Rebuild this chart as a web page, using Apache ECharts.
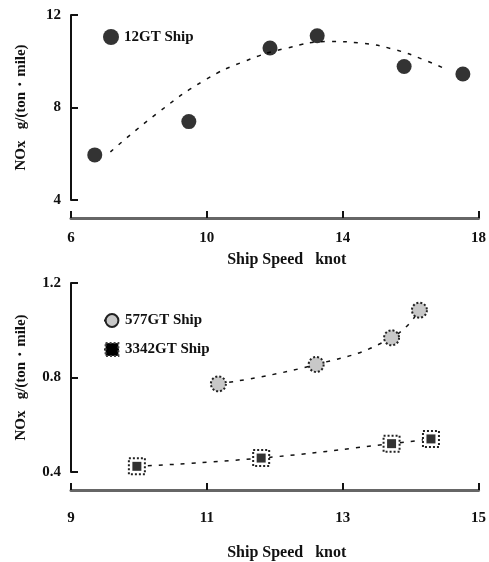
<!DOCTYPE html>
<html>
<head>
<meta charset="utf-8">
<script src="https://cdn.jsdelivr.net/npm/echarts@6/dist/echarts.min.js"></script>
<style>
  html, body { margin: 0; padding: 0; background: #fff; }
  #main { width: 489px; height: 562px; }
</style>
</head>
<body>
<div id="main"></div>
<script>
  // top panel: 12GT ship
  var speed12 = [6.7, 9.47, 11.86, 13.25, 15.81, 17.54];
  var nox12 = [5.95, 7.39, 10.57, 11.1, 9.77, 9.45];
  // fitted curve drawn in the top panel
  var fitX12 = [7.16, 8.6, 9.95, 11.1, 12.36, 13.6, 14.57, 15.54, 16.4, 16.98];
  var fitY12 = [6.08, 7.82, 9.19, 9.99, 10.57, 10.85, 10.78, 10.5, 10.06, 9.7];

  // bottom panel
  var speed577 = [11.17, 12.61, 13.72, 14.13];
  var nox577 = [0.773, 0.855, 0.968, 1.085];
  var speed3342 = [9.97, 11.8, 13.72, 14.3];
  var nox3342 = [0.424, 0.459, 0.52, 0.54];

  var topXTicks = [6, 10, 14, 18];
  var topYTicks = [4, 8, 12];
  var botXTicks = [9, 11, 13, 15];
  var botYTicks = [0.4, 0.8, 1.2];

  function pairs(xs, ys) {
    return xs.map(function (x, i) { return [x, ys[i]]; });
  }

  var font = 'Liberation Serif';
  var labelStyle = { fontFamily: font, fontSize: 15, fontWeight: 'bold', color: '#111' };

  function xAxisOf(idx, ticks, margin, gap) {
    return {
      type: 'value', gridIndex: idx,
      min: ticks[0], max: ticks[ticks.length - 1], interval: ticks[1] - ticks[0],
      offset: 18,
      name: 'Ship Speed   knot', nameLocation: 'middle', nameGap: gap,
      nameTextStyle: { fontFamily: font, fontSize: 16, fontWeight: 'bold', color: '#111', padding: [0, 0, 0, 24] },
      axisLine: { lineStyle: { color: '#666', width: 3 } },
      axisTick: { inside: true, length: 7, lineStyle: { color: '#111', width: 2 } },
      axisLabel: Object.assign({ margin: margin }, labelStyle),
      splitLine: { show: false }
    };
  }

  function yAxisOf(idx, ticks) {
    return {
      type: 'value', gridIndex: idx,
      min: ticks[0], max: ticks[ticks.length - 1], interval: ticks[1] - ticks[0],
      name: 'NOx   g/(ton\u30fbmile)', nameLocation: 'middle', nameGap: 42,
      nameTextStyle: { fontFamily: font, fontSize: 15, fontWeight: 'bold', color: '#111' },
      axisLine: { show: true, lineStyle: { color: '#111', width: 2 } },
      axisTick: { show: true, inside: true, length: 7, lineStyle: { color: '#111', width: 2 } },
      axisLabel: Object.assign({ margin: 10, formatter: function (v) { return v; } }, labelStyle),
      splitLine: { show: false }
    };
  }

  var myChart = echarts.init(document.getElementById('main'), null, { renderer: 'canvas' });
  var option = {
    backgroundColor: '#fff',
    animation: false,
    legend: [{
      left: 98, top: 24, orient: 'vertical', itemWidth: 16, itemHeight: 16, itemGap: 12,
      textStyle: { fontFamily: font, fontSize: 15, fontWeight: 'bold', color: '#111' },
      data: [{ name: '12GT Ship', itemStyle: { color: '#000' } }]
    }, {
      left: 98, top: 308, orient: 'vertical', itemWidth: 16, itemHeight: 16, itemGap: 14,
      textStyle: { fontFamily: font, fontSize: 15, fontWeight: 'bold', color: '#111' },
      data: [
        { name: '577GT Ship' },
        { name: '3342GT Ship', itemStyle: { color: '#000', borderColor: '#444', borderWidth: 2, borderType: 'dotted' } }
      ]
    }],
    grid: [
      { left: 71, right: 4, top: 15, height: 185 },
      { left: 71, right: 4, top: 283, height: 189 }
    ],
    xAxis: [xAxisOf(0, topXTicks, 13, 34), xAxisOf(1, botXTicks, 21, 55)],
    yAxis: [yAxisOf(0, topYTicks), yAxisOf(1, botYTicks)],
    series: [{
      name: 'fit12', type: 'line', xAxisIndex: 0, yAxisIndex: 0,
      data: pairs(fitX12, fitY12), smooth: true, showSymbol: false, symbol: 'none',
      lineStyle: { color: '#111', width: 1.5, type: [4, 7] }, z: 1
    }, {
      name: '12GT Ship', type: 'scatter', xAxisIndex: 0, yAxisIndex: 0,
      data: pairs(speed12, nox12), symbol: 'circle', symbolSize: 15,
      itemStyle: { color: '#000' }, z: 3
    }, {
      name: '577GT Ship', type: 'line', xAxisIndex: 1, yAxisIndex: 1,
      data: pairs(speed577, nox577), smooth: true,
      symbol: 'circle', symbolSize: 15,
      lineStyle: { color: '#111', width: 1.5, type: [4, 7] },
      itemStyle: { color: '#c8c8c8', borderColor: '#222', borderWidth: 2, borderType: 'dotted' }, z: 3
    }, {
      name: '3342GT Ship', type: 'line', xAxisIndex: 1, yAxisIndex: 1,
      data: pairs(speed3342, nox3342), smooth: true,
      symbol: 'rect', symbolSize: 16,
      lineStyle: { color: '#111', width: 1.5, type: [4, 7] },
      itemStyle: { color: '#fff', borderColor: '#222', borderWidth: 2, borderType: 'dotted' }, z: 3
    }, {
      name: '3342GT core', type: 'scatter', xAxisIndex: 1, yAxisIndex: 1,
      data: pairs(speed3342, nox3342), symbol: 'rect', symbolSize: 9,
      itemStyle: { color: '#000' }, z: 4
    }]
  };
  myChart.setOption(option);
</script>
</body>
</html>
